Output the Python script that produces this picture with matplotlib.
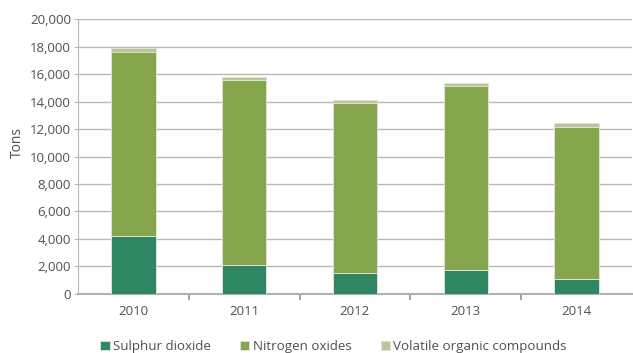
import matplotlib.pyplot as plt
import numpy as np

# Datos (toneladas)
years = ['2010', '2011', '2012', '2013', '2014']
sulphur = [4230, 2100, 1510, 1710, 1100]
nitrogen = [13420, 13500, 12430, 13400, 11070]
voc = [250, 220, 200, 250, 310]

labels = ['Sulphur dioxide', 'Nitrogen oxides', 'Volatile organic compounds']
colors = ['#2e8663', '#86a64e', '#bec49a']

plt.rcParams['font.family'] = ['Open Sans', 'DejaVu Sans']

fig = plt.figure(figsize=(6.33, 3.53), dpi=100)
ax = fig.add_axes([0.1232, 0.168, 0.875, 0.777])

x = np.arange(len(years))
bottom = np.zeros(len(years))
for vals, lab, col in zip([sulphur, nitrogen, voc], labels, colors):
    ax.bar(x, vals, width=0.4, bottom=bottom, color=col, label=lab,
           edgecolor='#dde3d2', linewidth=0.7, zorder=3)
    bottom += np.array(vals)

ax.set_xlim(-0.5, len(years) - 0.5)
ax.set_ylim(0, 20000)
ax.set_yticks(np.arange(0, 20001, 2000))
ax.set_yticklabels([f'{v:,}' for v in range(0, 20001, 2000)])
ax.set_xticks(x)
ax.set_xticklabels(years)
ax.set_xticks(np.arange(0.5, len(years) - 1, 1), minor=True)

ax.grid(axis='y', color='#b8b8b8', linewidth=1, zorder=0)
for s in ['top', 'right']:
    ax.spines[s].set_visible(False)
ax.spines['left'].set_color('#b8b8b8')
ax.spines['bottom'].set_color('#b0b0b0')
ax.spines['bottom'].set_linewidth(1.5)

ax.tick_params(axis='y', length=3, color='#b8b8b8', labelsize=9.5,
               labelcolor='#505050', pad=2)
ax.tick_params(axis='x', which='major', length=0, labelsize=9.5,
               labelcolor='#505050', pad=8)
ax.tick_params(axis='x', which='minor', length=4, width=1.2, color='#909090')

ax.set_ylabel('Tons', fontsize=10, color='#505050', labelpad=5)
ax.yaxis.set_label_coords(-0.095, 0.55)

fig.legend(loc='lower center', bbox_to_anchor=(0.527, -0.035), ncol=3,
           frameon=False, fontsize=9.6, labelcolor='#505050',
           handlelength=0.7, handleheight=0.7, handletextpad=0.25,
           columnspacing=2.2)

fig.savefig('out.png', dpi=100)
